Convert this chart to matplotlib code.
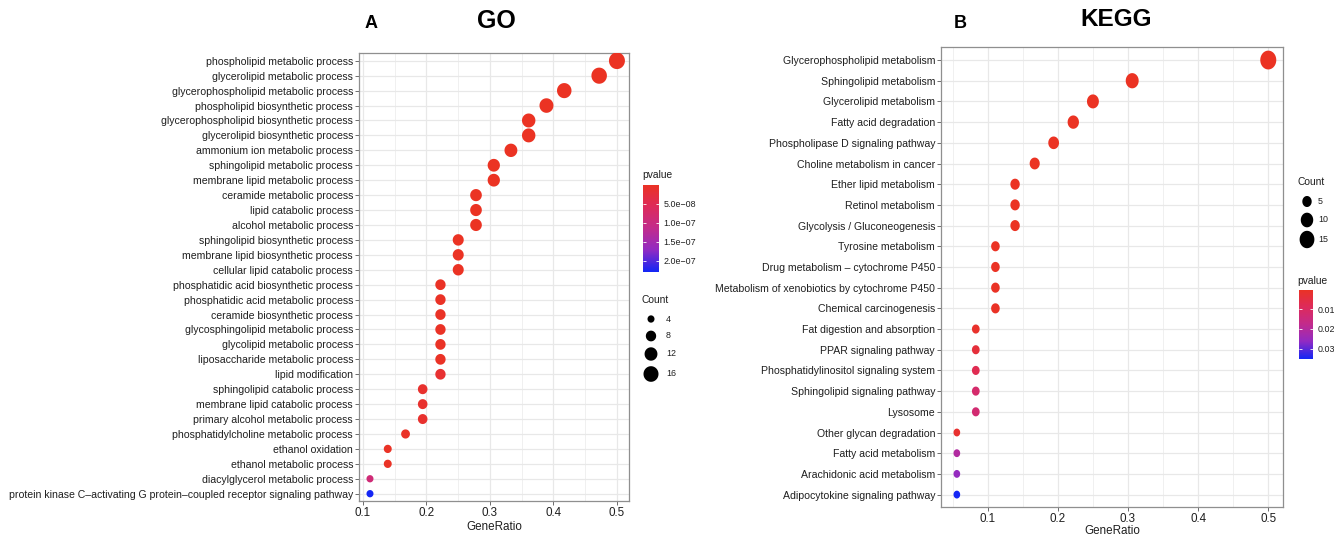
import numpy as np
import matplotlib
matplotlib.use("Agg")
import matplotlib.pyplot as plt
from matplotlib.colors import LinearSegmentedColormap, Normalize
from matplotlib.path import Path
from matplotlib.markers import MarkerStyle

plt.rcParams["font.family"] = ["Liberation Sans", "DejaVu Sans"]

# ---------------- GO enrichment ----------------
go_terms = [
    "phospholipid metabolic process",
    "glycerolipid metabolic process",
    "glycerophospholipid metabolic process",
    "phospholipid biosynthetic process",
    "glycerophospholipid biosynthetic process",
    "glycerolipid biosynthetic process",
    "ammonium ion metabolic process",
    "sphingolipid metabolic process",
    "membrane lipid metabolic process",
    "ceramide metabolic process",
    "lipid catabolic process",
    "alcohol metabolic process",
    "sphingolipid biosynthetic process",
    "membrane lipid biosynthetic process",
    "cellular lipid catabolic process",
    "phosphatidic acid biosynthetic process",
    "phosphatidic acid metabolic process",
    "ceramide biosynthetic process",
    "glycosphingolipid metabolic process",
    "glycolipid metabolic process",
    "liposaccharide metabolic process",
    "lipid modification",
    "sphingolipid catabolic process",
    "membrane lipid catabolic process",
    "primary alcohol metabolic process",
    "phosphatidylcholine metabolic process",
    "ethanol oxidation",
    "ethanol metabolic process",
    "diacylglycerol metabolic process",
    "protein kinase C\u2013activating G protein\u2013coupled receptor signaling pathway",
]
go_ratio = [0.500, 0.472, 0.417, 0.389, 0.361, 0.361, 0.333, 0.306, 0.306,
            0.278, 0.278, 0.278, 0.250, 0.250, 0.250, 0.222, 0.222, 0.222,
            0.222, 0.222, 0.222, 0.222, 0.194, 0.194, 0.194, 0.167, 0.139,
            0.139, 0.111, 0.111]
go_count = [18, 17, 15, 14, 13, 13, 12, 11, 11, 10, 10, 10, 9, 9, 9,
            8, 8, 8, 8, 8, 8, 8, 7, 7, 7, 6, 5, 5, 4, 4]
go_pvalue = [2.1e-16, 5.4e-15, 1.2e-13, 3.3e-13, 2.0e-12, 2.0e-12, 8.9e-12,
             4.5e-11, 4.5e-11, 2.2e-10, 2.2e-10, 2.2e-10, 1.0e-9, 1.0e-9,
             1.0e-9, 4.4e-9, 4.4e-9, 4.4e-9, 4.4e-9, 4.4e-9, 4.4e-9, 1.6e-8,
             1.2e-8, 1.2e-8, 1.2e-8, 5.0e-9, 3.0e-9, 3.0e-9, 9.0e-8, 2.3e-7]
go_xticks = [0.1, 0.2, 0.3, 0.4, 0.5]
go_count_legend = [4, 8, 12, 16]
go_p_ticks = [5e-8, 1e-7, 1.5e-7, 2e-7]
go_p_labels = ["5.0e\u221208", "1.0e\u221207", "1.5e\u221207", "2.0e\u221207"]

# ---------------- KEGG enrichment ----------------
kegg_terms = [
    "Glycerophospholipid metabolism",
    "Sphingolipid metabolism",
    "Glycerolipid metabolism",
    "Fatty acid degradation",
    "Phospholipase D signaling pathway",
    "Choline metabolism in cancer",
    "Ether lipid metabolism",
    "Retinol metabolism",
    "Glycolysis / Gluconeogenesis",
    "Tyrosine metabolism",
    "Drug metabolism \u2013 cytochrome P450",
    "Metabolism of xenobiotics by cytochrome P450",
    "Chemical carcinogenesis",
    "Fat digestion and absorption",
    "PPAR signaling pathway",
    "Phosphatidylinositol signaling system",
    "Sphingolipid signaling pathway",
    "Lysosome",
    "Other glycan degradation",
    "Fatty acid metabolism",
    "Arachidonic acid metabolism",
    "Adipocytokine signaling pathway",
]
kegg_ratio = [0.500, 0.306, 0.250, 0.222, 0.194, 0.167, 0.139, 0.139, 0.139,
              0.111, 0.111, 0.111, 0.111, 0.083, 0.083, 0.083, 0.083, 0.083,
              0.056, 0.056, 0.056, 0.056]
kegg_count = [18, 11, 9, 8, 7, 6, 5, 5, 5, 4, 4, 4, 4, 3, 3, 3, 3, 3,
              2, 2, 2, 2]
kegg_pvalue = [1.0e-14, 2.0e-9, 1.5e-8, 3.0e-7, 2.0e-6, 1.0e-5, 4.0e-5,
               6.0e-5, 8.0e-5, 3.0e-4, 4.0e-4, 5.0e-4, 6.0e-4, 0.0015,
               0.004, 0.0075, 0.012, 0.013, 0.002, 0.021, 0.026, 0.0355]
kegg_xticks = [0.1, 0.2, 0.3, 0.4, 0.5]
kegg_count_legend = [5, 10, 15]
kegg_p_ticks = [0.01, 0.02, 0.03]
kegg_p_labels = ["0.01", "0.02", "0.03"]

# ---------------- styling helpers ----------------
W, H = 1334, 535
fig = plt.figure(figsize=(W / 100, H / 100), dpi=100)

cmap = LinearSegmentedColormap.from_list(
    "p_red_blue",
    ["#EB3323", "#DE2B5A", "#C32B8C", "#922BC3", "#1426F5"])

TEXT = "#1f1f1f"


def px_box(x0, y0, x1, y1):
    return [x0 / W, 1 - y1 / H, (x1 - x0) / W, (y1 - y0) / H]


def oval(aspect):
    t = np.linspace(0, 2 * np.pi, 72)
    return MarkerStyle(Path(np.column_stack([aspect * np.cos(t), np.sin(t)]), closed=True))


def dot_area(counts, a, b, aspect):
    # diameter grows with sqrt(count); the oval's height sets the marker size
    w_px = a + b * np.sqrt(np.asarray(counts, dtype=float))
    h_px = w_px / aspect
    return (h_px * 0.72) ** 2


def dot_panel(box, terms, ratio, counts, pvals, xlim, ylim, xticks, minor,
              a, b, aspect, labelpad):
    ax = fig.add_axes(px_box(*box))
    n = len(terms)
    y = np.arange(n)
    norm = Normalize(vmin=min(pvals), vmax=max(pvals))
    ax.scatter(ratio, y, s=dot_area(counts, a, b, aspect), c=pvals, cmap=cmap,
               norm=norm, marker=oval(aspect), linewidths=0, zorder=3)
    ax.set_xlim(*xlim)
    ax.set_ylim(*ylim)
    ax.set_yticks(y)
    ax.set_yticklabels(terms, fontsize=7.6, color=TEXT)
    ax.set_xticks(xticks)
    ax.set_xticklabels([f"{v:g}" for v in xticks], fontsize=8.4, color=TEXT)
    ax.set_xticks(minor, minor=True)
    ax.tick_params(axis="both", which="major", length=2.8, width=0.6,
                   color="#555555", pad=1.5)
    ax.tick_params(axis="x", which="minor", length=0)
    ax.grid(True, which="major", color="#E8E8E8", lw=0.9, zorder=0)
    ax.grid(True, which="minor", axis="x", color="#EEEEEE", lw=0.6, zorder=0)
    ax.set_axisbelow(True)
    for sp in ax.spines.values():
        sp.set_color("#8f8f8f")
        sp.set_linewidth(0.9)
    ax.set_xlabel("GeneRatio", fontsize=8.4, color=TEXT, labelpad=labelpad)
    return ax, norm


def colorbar(box, norm, ticks, labels):
    cax = fig.add_axes(px_box(*box))
    grad = np.linspace(norm.vmin, norm.vmax, 200).reshape(-1, 1)
    cax.imshow(grad, aspect="auto", cmap=cmap, norm=norm, origin="upper",
               extent=[0, 1, norm.vmax, norm.vmin])
    cax.set_xlim(0, 1)
    cax.set_ylim(norm.vmax, norm.vmin)
    cax.set_xticks([])
    cax.set_yticks(ticks)
    cax.set_yticklabels(labels, fontsize=6.4, color=TEXT)
    cax.yaxis.tick_right()
    cax.tick_params(axis="y", which="both", direction="in", length=2.5,
                    width=0.6, color="white", right=True, left=True, pad=3)
    for sp in cax.spines.values():
        sp.set_visible(False)
    return cax


# ---------------- panels ----------------
dot_panel((359, 53, 629, 501), go_terms, go_ratio, go_count, go_pvalue,
          (0.0937, 0.519), (len(go_terms) - 1 + 0.49, -0.52), go_xticks,
          [0.15, 0.25, 0.35, 0.45], a=-1.0, b=4.0, aspect=0.96, labelpad=1.5)
go_norm = Normalize(vmin=min(go_pvalue), vmax=max(go_pvalue))

dot_panel((941, 47, 1283, 507), kegg_terms, kegg_ratio, kegg_count,
          kegg_pvalue, (0.0334, 0.521), (len(kegg_terms) - 1 + 0.6, -0.63),
          kegg_xticks, [0.05, 0.15, 0.25, 0.35, 0.45], a=2.0, b=3.3,
          aspect=0.85, labelpad=0.0)
kegg_norm = Normalize(vmin=min(kegg_pvalue), vmax=max(kegg_pvalue))

# ---------------- overlay for titles and legends (pixel coordinates) ----------------
ov = fig.add_axes([0, 0, 1, 1], zorder=5)
ov.set_xlim(0, W)
ov.set_ylim(H, 0)
ov.axis("off")
ov.patch.set_alpha(0)

ov.text(371, 23, "A", fontsize=13, fontweight="bold", ha="center", va="center")
ov.text(496, 21, "GO", fontsize=18, fontweight="bold", ha="center", va="center")
ov.text(960, 23, "B", fontsize=13, fontweight="bold", ha="center", va="center")
ov.text(1116, 19, "KEGG", fontsize=17.5, fontweight="bold", ha="center",
        va="center")

# GO legends
ov.text(642, 175, "pvalue", fontsize=7.4, ha="left", va="center", color=TEXT)
colorbar((643, 185, 659, 272), go_norm, go_p_ticks, go_p_labels)
ov.text(642, 300, "Count", fontsize=7.4, ha="left", va="center", color=TEXT)
go_leg_y = [319, 336, 354, 374]
ov.scatter([651] * len(go_count_legend), go_leg_y,
           s=dot_area(go_count_legend, -1.0, 4.0, 0.96), c="black",
           marker=oval(0.96), linewidths=0)
for yy, lab in zip(go_leg_y, go_count_legend):
    ov.text(666, yy, str(lab), fontsize=6.4, ha="left", va="center", color=TEXT)

# KEGG legends
ov.text(1297, 182, "Count", fontsize=7.4, ha="left", va="center", color=TEXT)
kegg_leg_y = [201.5, 220, 239.5]
ov.scatter([1307] * len(kegg_count_legend), kegg_leg_y,
           s=dot_area(kegg_count_legend, 2.0, 3.3, 0.85), c="black",
           marker=oval(0.85), linewidths=0)
for yy, lab in zip(kegg_leg_y, kegg_count_legend):
    ov.text(1318, yy, str(lab), fontsize=6.4, ha="left", va="center", color=TEXT)
ov.text(1297, 281, "pvalue", fontsize=7.4, ha="left", va="center", color=TEXT)
colorbar((1299, 289.5, 1313, 359.5), kegg_norm, kegg_p_ticks, kegg_p_labels)

fig.savefig("out.png", dpi=100, facecolor="white")
